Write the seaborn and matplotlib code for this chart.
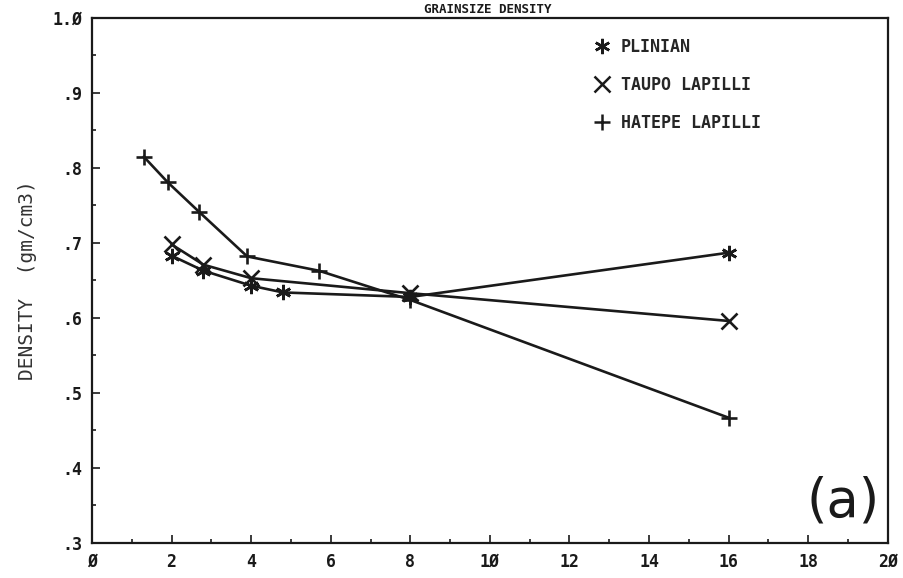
import matplotlib
matplotlib.use("Agg")
import matplotlib.pyplot as plt
from matplotlib.lines import Line2D
from matplotlib.ticker import MultipleLocator
import pandas as pd
import seaborn as sns

# grainsize (mm) vs density
plinian_x = [2.0, 2.8, 4.0, 4.8, 8.0, 16.0]
plinian_y = [0.683, 0.663, 0.643, 0.634, 0.628, 0.687]
taupo_x = [2.0, 2.8, 4.0, 8.0, 16.0]
taupo_y = [0.698, 0.671, 0.653, 0.633, 0.596]
hatepe_x = [1.3, 1.9, 2.7, 3.9, 5.7, 8.0, 16.0]
hatepe_y = [0.815, 0.781, 0.741, 0.682, 0.663, 0.624, 0.467]

series = ["PLINIAN", "TAUPO LAPILLI", "HATEPE LAPILLI"]
x_ticks = [0, 2, 4, 6, 8, 10, 12, 14, 16, 18, 20]
x_labels = ["Ø", "2", "4", "6", "8", "1Ø", "12", "14", "16", "18", "2Ø"]
y_ticks = [0.3, 0.4, 0.5, 0.6, 0.7, 0.8, 0.9, 1.0]
y_labels = [".3", ".4", ".5", ".6", ".7", ".8", ".9", "1.Ø"]

df = pd.concat([
    pd.DataFrame({"size": plinian_x, "density": plinian_y, "type": series[0]}),
    pd.DataFrame({"size": taupo_x, "density": taupo_y, "type": series[1]}),
    pd.DataFrame({"size": hatepe_x, "density": hatepe_y, "type": series[2]}),
])

sns.set_style("ticks")
plt.rcParams["font.family"] = ["DejaVu Sans Mono", "DejaVu Sans"]

marks = {series[0]: (6, 2, 0), series[1]: "x", series[2]: "+"}
ink = "#1a1a1a"

fig = plt.figure(figsize=(9.04, 5.78), dpi=100)
ax = fig.add_axes([0.1018, 0.0606, 0.8802, 0.9084])

sns.lineplot(data=df, x="size", y="density", style="type", markers=marks,
             dashes=False, color=ink, linewidth=1.9, markersize=11,
             markeredgewidth=1.9, markeredgecolor=ink, legend=False,
             sort=False, estimator=None, ax=ax)

ax.set_xlim(0, 20)
ax.set_ylim(0.3, 1.0)
ax.set_xticks(x_ticks)
ax.set_xticklabels(x_labels, fontweight="bold")
ax.set_yticks(y_ticks)
ax.set_yticklabels(y_labels, fontweight="bold")
ax.xaxis.set_minor_locator(MultipleLocator(1))
ax.yaxis.set_minor_locator(MultipleLocator(0.05))
ax.tick_params(which="both", direction="in", color=ink, width=1.2)
ax.tick_params(which="major", length=6, labelsize=12, labelcolor=ink, pad=7)
ax.tick_params(which="minor", length=3)
for s in ax.spines.values():
    s.set_linewidth(1.6)
    s.set_color(ink)

ax.set_xlabel("")
ax.set_ylabel("DENSITY  (gm/cm3)", fontsize=14, color="#333333", labelpad=11)

handles = [Line2D([], [], linestyle="none", marker=marks[s], color=ink,
                  markersize=11, markeredgewidth=1.8) for s in series]
ax.legend(handles, series, loc="upper left", bbox_to_anchor=(0.61, 0.99),
          frameon=False, prop={"size": 12, "weight": "bold"},
          handletextpad=0.5, labelspacing=1.2, handlelength=1.2)

ax.text(0.99, 0.03, "(a)", transform=ax.transAxes, ha="right", va="bottom",
        fontsize=38, family="DejaVu Sans", color=ink)

fig.text(0.54, 1 - 3 / 578, "GRAINSIZE DENSITY", ha="center", va="top",
         fontsize=9, fontweight="bold", color=ink)

fig.savefig("out.png", dpi=100, facecolor="white")
